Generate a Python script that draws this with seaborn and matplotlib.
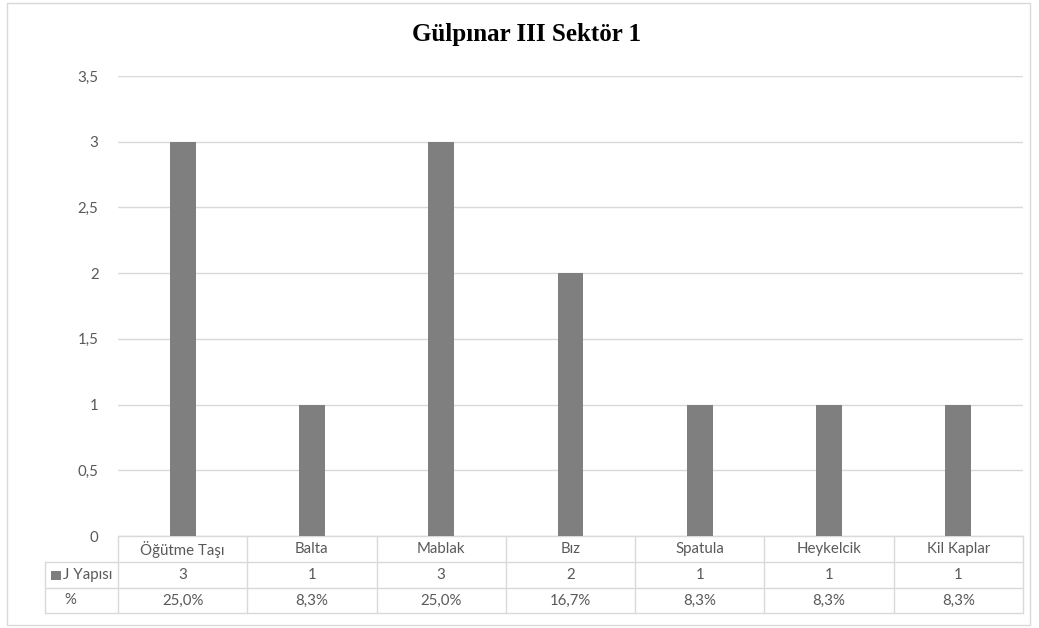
import matplotlib
matplotlib.use("Agg")
import matplotlib.pyplot as plt
import seaborn as sns
import pandas as pd
from matplotlib.patches import Rectangle
import matplotlib.transforms as mtransforms

categories = ["Öğütme Taşı", "Balta", "Mablak", "Bız", "Spatula", "Heykelcik", "Kil Kaplar"]
counts = [3, 1, 3, 2, 1, 1, 1]
percents = ["25,0%", "8,3%", "25,0%", "16,7%", "8,3%", "8,3%", "8,3%"]
series_name = "J Yapısı"
title = "Gülpınar III Sektör 1"
yticks = [0, 0.5, 1, 1.5, 2, 2.5, 3, 3.5]
ytick_labels = ["0", "0,5", "1", "1,5", "2", "2,5", "3", "3,5"]

sns.set_theme(style="white")
plt.rcParams["font.family"] = ["Lato", "DejaVu Sans"]

W, H = 1039, 628
fig = plt.figure(figsize=(W / 100, H / 100), dpi=100)
ax = fig.add_axes([118 / W, 1 - 536 / H, (1023 - 118) / W, (536 - 76) / H])

df = pd.DataFrame({"cat": categories, "val": counts})
sns.barplot(data=df, x="cat", y="val", color="#7f7f7f", width=0.2, ax=ax,
            saturation=1, zorder=3, linewidth=0)

fs = 10.8
ax.set_xlim(-0.5, len(categories) - 0.5)
ax.set_ylim(0, 3.5)
ax.set_yticks(yticks)
ax.set_yticklabels(ytick_labels, fontsize=fs, color="#595959")
ax.tick_params(axis="y", length=0, pad=14)
ax.set_xticks([])
ax.set_xlabel("")
ax.set_ylabel("")
for s in ax.spines.values():
    s.set_visible(False)
ax.yaxis.grid(True, color="#d9d9d9", linewidth=1, zorder=0)
ax.set_axisbelow(True)

# Title
fig.text(526 / W, 1 - 35 / H, title, ha="center", va="center",
         fontsize=18, fontweight="bold", family=["Liberation Serif", "DejaVu Serif"],
         color="#000000")

# Data table below the axes
trans = mtransforms.blended_transform_factory(ax.transData, ax.transAxes)
ah = 460.0
r1 = -26 / ah
r2 = -52 / ah
r3 = -77 / ah
n = len(categories)
left_x = -0.5 - 73 / (905 / n)
lc = "#d9d9d9"
lw = 1.0

def hline(x0, x1, y):
    ax.plot([x0, x1], [y, y], transform=trans, color=lc, lw=lw, clip_on=False)

def vline(x, y0, y1):
    ax.plot([x, x], [y0, y1], transform=trans, color=lc, lw=lw, clip_on=False)

hline(-0.5, n - 0.5, 0)
hline(left_x, n - 0.5, r1)
hline(left_x, n - 0.5, r2)
hline(left_x, n - 0.5, r3)
for i in range(n + 1):
    vline(i - 0.5, 0, r3)
vline(left_x, r1, r3)

tc = "#595959"
for i, c in enumerate(categories):
    ax.text(i, r1 / 2, c, transform=trans, ha="center", va="center", fontsize=fs, color=tc)
    ax.text(i, (r1 + r2) / 2, str(counts[i]), transform=trans, ha="center", va="center", fontsize=fs, color=tc)
    ax.text(i, (r2 + r3) / 2, percents[i], transform=trans, ha="center", va="center", fontsize=fs, color=tc)

# row headers
ax.add_patch(Rectangle((left_x + 0.05, (r1 + r2) / 2 - 0.011), 0.075, 0.02,
                       transform=trans, color="#7f7f7f", clip_on=False, linewidth=0))
ax.text(left_x + 0.14, (r1 + r2) / 2, series_name, transform=trans, ha="left",
        va="center", fontsize=fs, color=tc)
ax.text(left_x + 0.15, (r2 + r3) / 2, "%", transform=trans, ha="left",
        va="center", fontsize=fs, color=tc)

# Outer chart border
fig.patches.append(Rectangle((7 / W, 1 - 625 / H), (1030 - 7) / W, (625 - 3) / H,
                             transform=fig.transFigure, fill=False,
                             edgecolor="#d9d9d9", linewidth=1))

fig.savefig("out.png", dpi=100)
